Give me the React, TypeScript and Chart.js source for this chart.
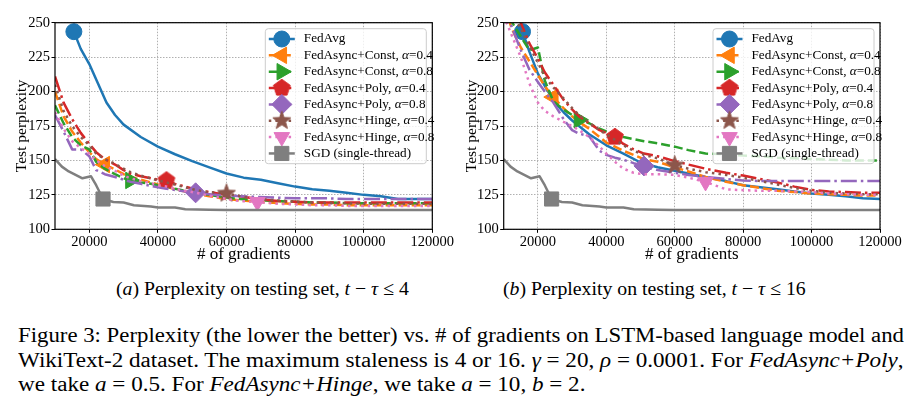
import React, { useEffect, useLayoutEffect, useRef, useState } from 'react';
import { Chart, registerables } from 'chart.js';

Chart.register(...registerables);

const FONT = '"Liberation Serif", "Times New Roman", serif';

// ---------- data ----------
const asyncX = [10000, 12500, 15000, 17500, 20000, 22000, 24500, 27500, 30000, 32000, 35000, 38000, 40000, 42500, 45000, 48000, 51000, 55000, 60000, 64000, 69000, 75000, 80000, 85000, 90000, 95000, 100000, 105000, 110000, 115000, 120000];
const fedAvgX = [15500, 17500, 20000, 22500, 25000, 27500, 30000, 35000, 40000, 45000, 50000, 55000, 60000, 65000, 70000, 75000, 80000, 85000, 90000, 95000, 100000, 105000, 110000, 115000, 120000];
const sgdX = [10000, 12000, 14000, 16000, 18000, 20500, 22000, 24000, 27000, 30000, 33000, 38000, 40000, 45000, 48000, 55000, 60000, 80000, 100000, 120000];

const xTickValues = [20000, 40000, 60000, 80000, 100000, 120000];
const yTickValues = [100, 125, 150, 175, 200, 225, 250];

const seriesLabels = [
  'FedAvg',
  'FedAsync+Const, α=0.4',
  'FedAsync+Const, α=0.8',
  'FedAsync+Poly, α=0.4',
  'FedAsync+Poly, α=0.8',
  'FedAsync+Hinge, α=0.4',
  'FedAsync+Hinge, α=0.8',
  'SGD (single-thread)',
];

// (a) staleness <= 4
const leftFedAvg = [243.5, 231, 220, 206, 192, 183, 176, 167, 160, 154.5, 149.5, 145, 140.5, 137.5, 136, 133.5, 131, 129, 128, 126.5, 125, 124, 122, 122, 122];
const leftConst04 = [200, 182, 171, 163, 156, 151, 147, 143.5, 140, 138, 136, 134, 132.5, 131, 129, 127.5, 126, 124, 122, 121, 120, 119, 118.5, 118, 118, 117.5, 117.5, 117.5, 117.5, 117.5, 117.5];
const leftConst08 = [190, 177, 167, 161, 158, 149, 144, 140, 137, 135.5, 134, 133, 132, 131, 129.5, 128, 126.5, 125, 123, 122, 121, 120.5, 120, 119.5, 119.5, 119, 119, 119, 119, 119, 119];
const leftPoly04 = [211, 192, 180, 170, 162, 156, 151, 147, 143, 140.5, 138.5, 137, 136, 135.5, 133, 131, 129, 127, 125, 124, 122, 120.5, 120, 119.5, 119.5, 119.5, 119.5, 119.5, 119.5, 119.5, 119.5];
const leftPoly08 = [183, 171, 158, 158, 153, 143, 140, 138, 136, 134.5, 133, 131.5, 130.5, 129.5, 128.5, 127.5, 126.5, 125.5, 124.5, 124, 123.5, 123, 122.5, 122.5, 122.5, 122, 122, 122, 122, 122, 122];
const leftHinge04 = [205, 186, 175, 167, 161, 155, 151, 147.5, 144, 141.5, 139, 137, 135.5, 134, 132.5, 130.5, 128.5, 127, 126, 124, 122, 121, 120, 119.5, 119, 119, 118.5, 118.5, 118.5, 118.5, 118.5];
const leftHinge08 = [185, 173, 164, 159, 155, 150, 146, 142.5, 139, 137, 135, 133.5, 132, 131, 129.5, 128, 126.5, 124.5, 122, 120.5, 119.8, 118.5, 118, 117.5, 117.5, 117, 117, 117, 117, 117, 117];

// (b) staleness <= 16
const rightFedAvg = [243.5, 229, 213, 202, 192, 185, 179, 169, 161, 155, 148.5, 145, 142.5, 140, 137.5, 135, 132, 130.5, 129, 127.5, 126, 125, 124, 122.5, 122];
const rightConst04 = [262, 245, 232, 222, 212, 204, 196, 188, 182, 178, 173, 167, 163, 160, 157, 154, 151, 149, 145, 142, 138, 134.5, 132, 130, 128, 127, 126, 125.5, 125, 124.5, 124.5];
const rightConst08 = [262, 250, 240, 230, 232, 208, 193, 187, 183, 179.5, 177, 173, 171, 169, 167, 165.5, 164, 162.5, 160, 157.5, 155, 154.5, 153.5, 153, 152, 151.5, 151, 150.5, 150, 150, 150];
const rightPoly04 = [270, 258, 250, 235, 224, 214, 205, 194, 187, 182, 177, 172, 170, 167, 162, 158, 155, 153, 149.5, 147, 144, 141, 139, 136.5, 134, 131, 128.5, 127.5, 127, 126.5, 126.5];
const rightPoly08 = [262, 246, 230, 216, 207, 200, 192, 180, 172, 169.5, 167.5, 157, 154, 152, 150.5, 148, 146, 143, 141, 139.5, 138, 136.5, 135.5, 135, 135, 135, 135, 135, 135, 135, 135];
const rightHinge04 = [265, 255, 246, 233, 221, 211, 203, 195, 188, 183, 177.5, 172, 169, 165, 161, 157, 154, 151.5, 146.5, 144, 141.5, 139.5, 137.5, 135, 132.5, 130, 128, 126.5, 126, 125.5, 125.5];
const rightHinge08 = [255, 240, 225, 206, 192, 186, 182, 178, 175, 172, 167, 160, 155, 149, 144, 141, 140, 140, 139.5, 137.5, 134.4, 129, 128.4, 128, 128, 127.5, 127, 126, 125.5, 125, 125];

// single-thread SGD (same in both panels)
const sgdValues = [151, 145.5, 142, 139.5, 137, 138.5, 132, 122, 119.8, 119.5, 117.5, 116.5, 115.8, 115.8, 114.5, 114.2, 114, 114, 114, 114];

// index of the single marker drawn on each curve
const markerIndex = [0, 6, 9, 13, 16, 18, 20, 7];

// ---------- styles ----------
const COLORS = ['#1f77b4', '#ff7f0e', '#2ca02c', '#d62728', '#9467bd', '#8c564b', '#e377c2', '#7f7f7f'];
const DASHES = [[], [9, 4], [9, 4], [16, 4, 2.5, 4], [16, 4, 2.5, 4], [2.5, 4.1], [2.5, 4.1], []];
const MARKERS = ['circle', 'triangle', 'triangle', 'pentagon', 'rectRot', 'star', 'triangle', 'rect'];
const ROTATIONS = [0, -90, 90, 0, 0, 0, 180, 0];
const RADII = [8, 9.5, 9.5, 9, 10, 9, 9, 10];

function makeShape(kind: string, color: string): HTMLCanvasElement {
  const size = 22;
  const c = document.createElement('canvas');
  c.width = size;
  c.height = size;
  const g = c.getContext('2d') as CanvasRenderingContext2D;
  const cx = size / 2;
  const cy = size / 2;
  g.beginPath();
  if (kind === 'pentagon') {
    const R = 8.8;
    for (let k = 0; k < 5; k++) {
      const a = -Math.PI / 2 + (k * 2 * Math.PI) / 5;
      const px = cx + Math.cos(a) * R;
      const py = cy + Math.sin(a) * R;
      if (k === 0) g.moveTo(px, py);
      else g.lineTo(px, py);
    }
  } else {
    const R = 9.5;
    const r = 3.9;
    for (let k = 0; k < 10; k++) {
      const a = -Math.PI / 2 + (k * Math.PI) / 5;
      const rr = k % 2 === 0 ? R : r;
      const px = cx + Math.cos(a) * rr;
      const py = cy + Math.sin(a) * rr;
      if (k === 0) g.moveTo(px, py);
      else g.lineTo(px, py);
    }
  }
  g.closePath();
  g.fillStyle = color;
  g.fill();
  g.strokeStyle = color;
  g.lineWidth = 1;
  g.stroke();
  return c;
}

function drawMarker(ctx: CanvasRenderingContext2D, i: number, x: number, y: number, imgs: any) {
  const kind = MARKERS[i];
  const R = RADII[i];
  ctx.save();
  ctx.fillStyle = COLORS[i];
  ctx.strokeStyle = COLORS[i];
  ctx.lineWidth = 1;
  ctx.setLineDash([]);
  if (kind === 'pentagon' || kind === 'star') {
    const im = imgs[kind];
    ctx.drawImage(im, x - im.width / 2, y - im.height / 2);
    ctx.restore();
    return;
  }
  ctx.beginPath();
  if (kind === 'circle') {
    ctx.arc(x, y, R, 0, Math.PI * 2);
  } else if (kind === 'triangle') {
    let a = (ROTATIONS[i] * Math.PI) / 180;
    for (let k = 0; k < 3; k++) {
      const px = x + Math.sin(a) * R;
      const py = y - Math.cos(a) * R;
      if (k === 0) ctx.moveTo(px, py);
      else ctx.lineTo(px, py);
      a += (2 * Math.PI) / 3;
    }
  } else if (kind === 'rectRot') {
    ctx.moveTo(x, y - R);
    ctx.lineTo(x + R, y);
    ctx.lineTo(x, y + R);
    ctx.lineTo(x - R, y);
  } else if (kind === 'rect') {
    const s = Math.SQRT1_2 * R;
    ctx.rect(x - s, y - s, 2 * s, 2 * s);
  }
  ctx.closePath();
  ctx.fill();
  ctx.stroke();
  ctx.restore();
}

const framePlugin = {
  id: 'frame',
  afterDatasetsDraw(chart: any) {
    const { ctx, chartArea } = chart;
    ctx.save();
    ctx.strokeStyle = '#000';
    ctx.lineWidth = 1.2;
    ctx.setLineDash([]);
    ctx.strokeRect(chartArea.left, chartArea.top, chartArea.right - chartArea.left, chartArea.bottom - chartArea.top);
    ctx.restore();
  },
};

const LEGEND_FONT_SIZE = 13.2;

function makeLegendPlugin(imgs: any) {
  return {
    id: 'boxLegend',
    afterDraw(chart: any) {
      const { ctx, chartArea } = chart;
      const w = 161;
      const h = 135;
      const x0 = chartArea.right - 6 - w;
      const y0 = chartArea.top + 6;
      ctx.save();
      ctx.beginPath();
      const r = 3;
      ctx.moveTo(x0 + r, y0);
      ctx.lineTo(x0 + w - r, y0);
      ctx.arcTo(x0 + w, y0, x0 + w, y0 + r, r);
      ctx.lineTo(x0 + w, y0 + h - r);
      ctx.arcTo(x0 + w, y0 + h, x0 + w - r, y0 + h, r);
      ctx.lineTo(x0 + r, y0 + h);
      ctx.arcTo(x0, y0 + h, x0, y0 + h - r, r);
      ctx.lineTo(x0, y0 + r);
      ctx.arcTo(x0, y0, x0 + r, y0, r);
      ctx.closePath();
      ctx.fillStyle = 'rgba(255,255,255,0.8)';
      ctx.fill();
      ctx.strokeStyle = '#cccccc';
      ctx.lineWidth = 1;
      ctx.stroke();

      for (let i = 0; i < seriesLabels.length; i++) {
        const cy = y0 + 10.3 + i * 16.35;
        ctx.beginPath();
        ctx.setLineDash(DASHES[i]);
        ctx.strokeStyle = COLORS[i];
        ctx.lineWidth = 2.5;
        ctx.lineCap = 'butt';
        ctx.moveTo(x0 + 3.5, cy);
        ctx.lineTo(x0 + 29.5, cy);
        ctx.stroke();
        ctx.setLineDash([]);
        drawMarker(ctx, i, x0 + 16.5, cy, imgs);

        const parts = seriesLabels[i].split('α');
        let tx = x0 + 38.5;
        ctx.fillStyle = '#000';
        ctx.textBaseline = 'middle';
        ctx.textAlign = 'left';
        ctx.font = `${LEGEND_FONT_SIZE}px ${FONT}`;
        ctx.fillText(parts[0], tx, cy);
        tx += ctx.measureText(parts[0]).width;
        if (parts.length > 1) {
          ctx.font = `italic ${LEGEND_FONT_SIZE}px ${FONT}`;
          ctx.fillText('α', tx, cy);
          tx += ctx.measureText('α').width;
          ctx.font = `${LEGEND_FONT_SIZE}px ${FONT}`;
          ctx.fillText(parts[1], tx, cy);
        }
      }
      ctx.restore();
    },
  };
}

function Panel(props: { values: number[][]; yAxisWidth: number; padRight: number; yTitlePad: number }) {
  const ref = useRef<HTMLCanvasElement | null>(null);
  useEffect(() => {
    const { values, yAxisWidth, padRight, yTitlePad } = props;
    const imgs: any = {
      pentagon: makeShape('pentagon', COLORS[3]),
      star: makeShape('star', COLORS[5]),
    };
    const xsList = [fedAvgX, asyncX, asyncX, asyncX, asyncX, asyncX, asyncX, sgdX];
    const datasets = values.map((vals, i) => {
      const style = MARKERS[i] === 'pentagon' || MARKERS[i] === 'star' ? imgs[MARKERS[i]] : MARKERS[i];
      return {
        label: seriesLabels[i],
        data: xsList[i].map((x, j) => ({ x, y: vals[j] })),
        borderColor: COLORS[i],
        backgroundColor: COLORS[i],
        borderWidth: 2.5,
        borderDash: DASHES[i],
        borderCapStyle: 'butt',
        borderJoinStyle: 'round',
        tension: 0,
        fill: false,
        pointStyle: style,
        pointRotation: ROTATIONS[i],
        pointRadius: (c: any) => (c.dataIndex === markerIndex[i] ? RADII[i] : 0),
        pointBackgroundColor: COLORS[i],
        pointBorderColor: COLORS[i],
        pointBorderWidth: 1,
        pointHoverRadius: 0,
        pointHitRadius: 0,
        order: values.length - i,
      };
    });

    const tickFont = { family: FONT, size: 14.5 };
    const chart = new Chart(ref.current as HTMLCanvasElement, {
      type: 'line',
      data: { datasets } as any,
      options: {
        responsive: false,
        maintainAspectRatio: false,
        animation: false,
        devicePixelRatio: 1,
        events: [],
        layout: { padding: { left: 0, top: 22.7, right: padRight, bottom: 0 } },
        plugins: { legend: { display: false }, tooltip: { enabled: false } },
        scales: {
          x: {
            type: 'linear',
            min: 10000,
            max: 120000,
            afterBuildTicks: (s: any) => {
              s.ticks = xTickValues.map((v) => ({ value: v }));
            },
            afterFit: (s: any) => {
              s.height = 270 - 229.3;
            },
            ticks: {
              callback: (v: any) => String(v),
              font: tickFont,
              color: '#000',
              padding: 1,
              maxRotation: 0,
              autoSkip: false,
            },
            grid: {
              color: '#b0b0b0',
              lineWidth: 1,
              drawTicks: true,
              tickLength: 3.5,
              tickColor: '#000',
              tickWidth: 1,
              tickBorderDash: [],
            },
            border: { display: false, dash: [1.5, 1.5] },
            title: {
              display: true,
              text: '# of gradients',
              color: '#000',
              font: { family: FONT, size: 17 },
              padding: { top: 0, bottom: 5.5 },
            },
          },
          y: {
            type: 'linear',
            min: 100,
            max: 250,
            afterBuildTicks: (s: any) => {
              s.ticks = yTickValues.map((v) => ({ value: v }));
            },
            afterFit: (s: any) => {
              s.width = yAxisWidth;
            },
            ticks: {
              callback: (v: any) => String(v),
              font: tickFont,
              color: '#000',
              padding: 1.5,
              autoSkip: false,
            },
            grid: {
              color: '#b0b0b0',
              lineWidth: 1,
              drawTicks: true,
              tickLength: 3.5,
              tickColor: '#000',
              tickWidth: 1,
              tickBorderDash: [],
            },
            border: { display: false, dash: [1.5, 1.5] },
            title: {
              display: true,
              text: 'Test perplexity',
              color: '#000',
              font: { family: FONT, size: 15.5 },
              padding: { top: yTitlePad, bottom: 0 },
            },
          },
        },
      } as any,
      plugins: [framePlugin, makeLegendPlugin(imgs)] as any,
    });
    return () => chart.destroy();
  }, []);
  return <canvas ref={ref} width={460} height={270} style={{ display: 'block', width: 460, height: 270 }} />;
}

const leftValues = [leftFedAvg, leftConst04, leftConst08, leftPoly04, leftPoly08, leftHinge04, leftHinge08, sgdValues];
const rightValues = [rightFedAvg, rightConst04, rightConst08, rightPoly04, rightPoly08, rightHinge04, rightHinge08, sgdValues];

const CAPTION_WIDTH = 886;

function Caption() {
  const r1 = useRef<HTMLSpanElement | null>(null);
  const r2 = useRef<HTMLSpanElement | null>(null);
  const [scales, setScales] = useState([1, 1, 1]);
  useLayoutEffect(() => {
    const w1 = r1.current ? r1.current.offsetWidth : CAPTION_WIDTH;
    const w2 = r2.current ? r2.current.offsetWidth : CAPTION_WIDTH;
    const s1 = CAPTION_WIDTH / w1;
    const s2 = CAPTION_WIDTH / w2;
    setScales([s1, s2, s2]);
  }, []);
  const lineStyle = (s: number) => ({
    display: 'inline-block',
    whiteSpace: 'nowrap' as const,
    transform: `scaleX(${s})`,
    transformOrigin: '0 0',
  });
  return (
    <div
      style={{
        position: 'absolute',
        left: 18,
        top: 323,
        fontFamily: FONT,
        fontSize: '20.5px',
        lineHeight: '24.5px',
        color: '#000',
        whiteSpace: 'nowrap',
      }}
    >
      <div>
        <span ref={r1} style={lineStyle(scales[0])}>
          Figure 3: Perplexity (the lower the better) vs. # of gradients on LSTM-based language model and
        </span>
      </div>
      <div>
        <span ref={r2} style={lineStyle(scales[1])}>
          WikiText-2 dataset. The maximum staleness is 4 or 16. <i>γ</i> = 20, <i>ρ</i> = 0.0001. For <i>FedAsync+Poly</i>,
        </span>
      </div>
      <div>
        <span style={lineStyle(scales[2])}>
          we take <i>a</i> = 0.5. For <i>FedAsync+Hinge</i>, we take <i>a</i> = 10, <i>b</i> = 2.
        </span>
      </div>
    </div>
  );
}

export default function App() {
  const subFont = { fontFamily: FONT, fontSize: '19.8px', lineHeight: '24px', color: '#000' };
  return (
    <div style={{ position: 'absolute', left: 0, top: 0, width: 920, height: 407, background: '#fff', overflow: 'hidden' }}>
      <div style={{ position: 'absolute', left: 0, top: 0 }}>
        <Panel values={leftValues} yAxisWidth={55} padRight={27.7} yTitlePad={12.5} />
      </div>
      <div style={{ position: 'absolute', left: 460, top: 0 }}>
        <Panel values={rightValues} yAxisWidth={43.7} padRight={40} yTitlePad={2.5} />
      </div>
      <div style={{ ...subFont, position: 'absolute', left: 116, top: 276, whiteSpace: 'nowrap' }}>
        (<i>a</i>) Perplexity on testing set, <i>t</i> − <i>τ</i> ≤ 4
      </div>
      <div style={{ ...subFont, position: 'absolute', left: 503, top: 276, whiteSpace: 'nowrap' }}>
        (<i>b</i>) Perplexity on testing set, <i>t</i> − <i>τ</i> ≤ 16
      </div>
      <Caption />
    </div>
  );
}
